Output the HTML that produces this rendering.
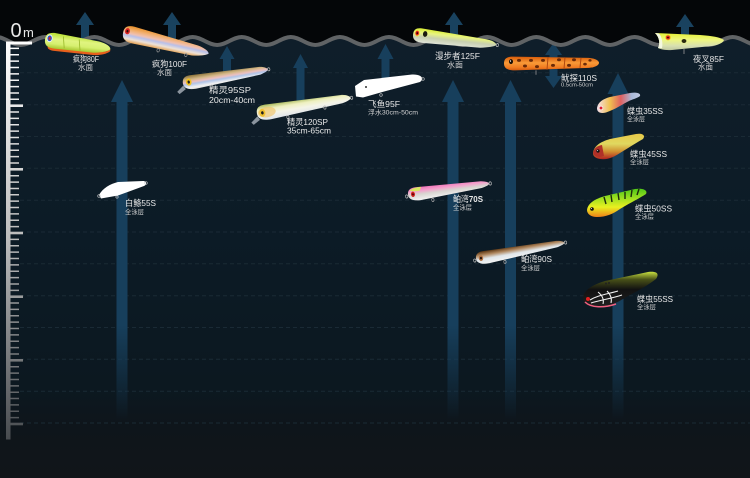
<!DOCTYPE html>
<html><head><meta charset="utf-8"><style>
html,body{margin:0;padding:0;background:#040608;}
svg{display:block;}
text{font-family:"Liberation Sans","Noto Sans CJK SC",sans-serif;fill:#e8e8e8;}
.s{fill:#d2d2d2;}
</style></head><body>
<svg width="750" height="478" viewBox="0 0 750 478" xmlns="http://www.w3.org/2000/svg">
<defs>
<linearGradient id="water" gradientUnits="userSpaceOnUse" x1="0" y1="35" x2="0" y2="478">
<stop offset="0" stop-color="#0f1e2a"/><stop offset="0.45" stop-color="#0c1b26"/><stop offset="0.8" stop-color="#0c1820"/><stop offset="0.88" stop-color="#0e151b"/><stop offset="1" stop-color="#111519"/></linearGradient>
<linearGradient id="rul" gradientUnits="userSpaceOnUse" x1="0" y1="40" x2="0" y2="440">
<stop offset="0" stop-color="#ffffff"/><stop offset="0.5" stop-color="#bcbcbc"/><stop offset="1" stop-color="#474b4f"/></linearGradient>
<linearGradient id="af" gradientUnits="userSpaceOnUse" x1="0" y1="325" x2="0" y2="420">
<stop offset="0" stop-color="#173f5c"/><stop offset="1" stop-color="#173f5c" stop-opacity="0"/></linearGradient>
<linearGradient id="g1" x1="0" y1="0" x2="0" y2="1"><stop offset="0" stop-color="#b8e030"/><stop offset="0.4" stop-color="#e0f480"/><stop offset="0.7" stop-color="#d6f070"/><stop offset="1" stop-color="#a8c830"/></linearGradient>
<linearGradient id="g2" x1="0" y1="0" x2="0" y2="1"><stop offset="0" stop-color="#e8902a"/><stop offset="0.25" stop-color="#f2b070"/><stop offset="0.45" stop-color="#f0c0b0"/><stop offset="0.58" stop-color="#b8c0ea"/><stop offset="0.78" stop-color="#eee2d6"/><stop offset="1" stop-color="#e4a050"/></linearGradient>
<linearGradient id="g3" x1="0" y1="0" x2="0" y2="1"><stop offset="0" stop-color="#8a7238"/><stop offset="0.3" stop-color="#d4b888"/><stop offset="0.48" stop-color="#ecc0c0"/><stop offset="0.62" stop-color="#b0c4e8"/><stop offset="0.85" stop-color="#f2f2f2"/><stop offset="1" stop-color="#dcdcdc"/></linearGradient>
<linearGradient id="g4" x1="0" y1="0" x2="0" y2="1"><stop offset="0" stop-color="#a8b858"/><stop offset="0.3" stop-color="#eef0c0"/><stop offset="0.6" stop-color="#f4f4e8"/><stop offset="1" stop-color="#dfe4ea"/></linearGradient>
<linearGradient id="g6" x1="0" y1="0" x2="0" y2="1"><stop offset="0" stop-color="#d8ec30"/><stop offset="0.3" stop-color="#e8f480"/><stop offset="0.6" stop-color="#c8d0b0"/><stop offset="1" stop-color="#e0e4d8"/></linearGradient>
<linearGradient id="g7" x1="0" y1="0" x2="0" y2="1"><stop offset="0" stop-color="#d85a08"/><stop offset="0.45" stop-color="#f89a38"/><stop offset="0.8" stop-color="#f07a20"/><stop offset="1" stop-color="#d05a10"/></linearGradient>
<linearGradient id="g8" x1="0" y1="0" x2="0" y2="1"><stop offset="0" stop-color="#e4f030"/><stop offset="0.4" stop-color="#eef680"/><stop offset="0.75" stop-color="#d8e0b0"/><stop offset="1" stop-color="#c0c8a0"/></linearGradient>
<linearGradient id="g10" x1="0" y1="0" x2="0" y2="1"><stop offset="0" stop-color="#f070b8"/><stop offset="0.3" stop-color="#f4a0cc"/><stop offset="0.55" stop-color="#d8d4d0"/><stop offset="1" stop-color="#f2f2f2"/></linearGradient>
<linearGradient id="g11" x1="0" y1="0" x2="0" y2="1"><stop offset="0" stop-color="#5a3410"/><stop offset="0.3" stop-color="#b08860"/><stop offset="0.6" stop-color="#e0e6ea"/><stop offset="1" stop-color="#f4f4f4"/></linearGradient>
<linearGradient id="v12" x1="0" y1="0" x2="1" y2="0"><stop offset="0" stop-color="#f4e0ec"/><stop offset="0.3" stop-color="#f0c050"/><stop offset="0.55" stop-color="#e06060"/><stop offset="0.8" stop-color="#a8b8d8"/><stop offset="1" stop-color="#c0c8e0"/></linearGradient>
<linearGradient id="v13" x1="0" y1="0" x2="0" y2="1"><stop offset="0" stop-color="#e8c848"/><stop offset="0.4" stop-color="#e0d860"/><stop offset="0.7" stop-color="#d09030"/><stop offset="1" stop-color="#b02020"/></linearGradient>
<linearGradient id="v14" x1="0" y1="0" x2="0" y2="1"><stop offset="0" stop-color="#50c818"/><stop offset="0.35" stop-color="#a0e020"/><stop offset="0.65" stop-color="#e8f020"/><stop offset="1" stop-color="#f08018"/></linearGradient>
<linearGradient id="v15" x1="0" y1="0" x2="0" y2="1"><stop offset="0" stop-color="#c8e040"/><stop offset="0.22" stop-color="#485018"/><stop offset="0.5" stop-color="#121212"/><stop offset="1" stop-color="#202020"/></linearGradient>
</defs>

<rect x="0" y="0" width="750" height="478" fill="#040608"/>

<g fill="#19425f">
<path d="M85,12 L94,25 L89,25 L89,41 L81,41 L81,25 L76,25 Z"/>
<path d="M172,12 L181,25 L176,25 L176,41 L168,41 L168,25 L163,25 Z"/>
<path d="M454,12 L463,25 L458,25 L458,41 L450,41 L450,25 L445,25 Z"/>
<path d="M685,14 L694,27 L689,27 L689,41 L681,41 L681,27 L676,27 Z"/>
</g>

<path fill="url(#water)" d="M-3.8,37 C5.04,37 11.91,45 20.75,45 S36.46,37 45.3,37 S61.01,45 69.85,45 S85.56,37 94.4,37 S110.11,45 118.95,45 S134.66,37 143.5,37 S159.21,45 168.05,45 S183.76,37 192.6,37 S208.31,45 217.15,45 S232.86,37 241.7,37 S257.41,45 266.25,45 S281.96,37 290.8,37 S306.51,45 315.35,45 S331.06,37 339.9,37 S355.61,45 364.45,45 S380.16,37 389,37 S404.71,45 413.55,45 S429.26,37 438.1,37 S453.81,45 462.65,45 S478.36,37 487.2,37 S502.91,45 511.75,45 S527.46,37 536.3,37 S552.01,45 560.85,45 S576.56,37 585.4,37 S601.11,45 609.95,45 S625.66,37 634.5,37 S650.21,45 659.05,45 S674.76,37 683.6,37 S699.31,45 708.15,45 S723.86,37 732.7,37 S748.41,45 757.25,45 L760,478 L-10,478 Z"/>

<g stroke="#1a2a35" stroke-width="1" stroke-dasharray="4 3" fill="none">
<path d="M20,72.8H750M20,104.7H750M20,136.5H750M20,168.3H750M20,200.2H750M20,232H750M20,263.8H750M20,295.7H750M20,327.5H750M20,359.3H750M20,391.2H750M20,423H750"/>
</g>

<g fill="url(#af)">
<path d="M122,80 L133,102 L127.5,102 L127.5,420 L116.5,420 L116.5,102 L111,102 Z"/>
<path d="M453,80 L464,102 L458.5,102 L458.5,420 L447.5,420 L447.5,102 L442,102 Z"/>
<path d="M510.5,80 L521.5,102 L516,102 L516,420 L505,420 L505,102 L499.5,102 Z"/>
<path d="M618,73 L628.5,94 L623.5,94 L623.5,420 L612.5,420 L612.5,94 L607.5,94 Z"/>
</g>
<g fill="#173f5c">
<path d="M227,46 L234.5,59 L231,59 L231,80 L223,80 L223,59 L219.5,59 Z"/>
<path d="M300.5,54 L308,68 L304.5,68 L304.5,106 L296.5,106 L296.5,68 L293,68 Z"/>
<path d="M385.5,44 L393.5,59 L389.5,59 L389.5,86 L381.5,86 L381.5,59 L377.5,59 Z"/>
<path d="M553.5,43 L562,55 L557.5,55 L557.5,76 L562,76 L553.5,88 L545,76 L549.5,76 L549.5,55 L545,55 Z"/>
</g>

<path fill="none" stroke="#606365" stroke-width="4" d="M-3.8,37 C5.04,37 11.91,45 20.75,45 S36.46,37 45.3,37 S61.01,45 69.85,45 S85.56,37 94.4,37 S110.11,45 118.95,45 S134.66,37 143.5,37 S159.21,45 168.05,45 S183.76,37 192.6,37 S208.31,45 217.15,45 S232.86,37 241.7,37 S257.41,45 266.25,45 S281.96,37 290.8,37 S306.51,45 315.35,45 S331.06,37 339.9,37 S355.61,45 364.45,45 S380.16,37 389,37 S404.71,45 413.55,45 S429.26,37 438.1,37 S453.81,45 462.65,45 S478.36,37 487.2,37 S502.91,45 511.75,45 S527.46,37 536.3,37 S552.01,45 560.85,45 S576.56,37 585.4,37 S601.11,45 609.95,45 S625.66,37 634.5,37 S650.21,45 659.05,45 S674.76,37 683.6,37 S699.31,45 708.15,45 S723.86,37 732.7,37 S748.41,45 757.25,45"/>

<g fill="url(#rul)">
<rect x="6" y="41.5" width="4.5" height="398"/>
<rect x="6" y="41.5" width="26" height="3"/>
<rect x="10" y="104.4" width="13" height="2.6"/>
<rect x="10" y="168" width="13" height="2.6"/>
<rect x="10" y="231.7" width="13" height="2.6"/>
<rect x="10" y="295.4" width="13" height="2.6"/>
<rect x="10" y="359" width="13" height="2.6"/>
<rect x="10" y="422.7" width="13" height="2.6"/>
</g>
<path d="M14.5,47.62 L14.5,424" stroke="url(#rul)" stroke-width="9" stroke-dasharray="1.5 4.867" fill="none"/>
<text x="10.5" y="37" font-size="20" fill="#ffffff">0</text>
<text x="23" y="37" font-size="13" fill="#ffffff">m</text>

<!-- lure 1 疯狗80F -->
<g transform="translate(43.6,33.8) rotate(6) translate(0,-2) scale(1,1.3)">
<path d="M6,10 L52,11.5 C60,11 66,10 68,8 L68,9.5 C64,12.5 56,13.8 50,13.8 L12,13.8 C7,13.8 4,12 6,10Z" fill="#e8601c"/>
<path d="M2,6 C2,1 6,0 12,0 L56,3 C64,4 68,6 68,8 C66,10 60,11 52,12 L12,12 C5,12 2,10 2,6 Z" fill="url(#g1)"/>
<path d="M20,2 L22,11 M36,3 L38,11.5" stroke="#98b828" stroke-width="0.8"/>
<circle cx="6.5" cy="4.5" r="3" fill="#e8eef8"/>
<circle cx="6.5" cy="4.5" r="2.2" fill="#2a58c8"/>
<circle cx="6.5" cy="4.5" r="1.1" fill="#e02424"/>
</g>

<!-- lure 2 疯狗100F -->
<g transform="translate(122.4,26.2) rotate(12) translate(0,-2) scale(1,1.3)">
<path d="M2,6 C2,1 6,0 12,0 L78,4 C86,5 90,7 90,8.5 C88,10 82,11.5 74,12.5 L14,13 C6,13 2,11 2,6Z" fill="url(#g2)"/>
<circle cx="6" cy="4.5" r="2.4" fill="#d82020"/>
<circle cx="6" cy="4.5" r="1" fill="#301010"/>
<circle cx="40" cy="14" r="1.3" fill="none" stroke="#999" stroke-width="0.6"/>
<circle cx="68" cy="13" r="1.3" fill="none" stroke="#999" stroke-width="0.6"/>
</g>

<!-- lure 3 精灵95SP -->
<g transform="translate(180.1,78.9) rotate(-9.5) translate(0,-2) scale(1,1.3)">
<path d="M2,7 L-5,11 L-3,13 L4,10Z" fill="#c0c8d0" opacity="0.7"/>
<path d="M2,5.5 C2,1.5 5,0 10,0 L80,2.5 C85,3 88,4.5 88,5.5 C88,6.5 85,7.5 80,8.5 L14,11 C6,11 2,9 2,5.5Z" fill="url(#g3)"/>
<circle cx="8" cy="5" r="2.8" fill="#f0c020"/>
<circle cx="8" cy="5" r="1.2" fill="#202020"/>
<circle cx="89" cy="5.5" r="1.2" fill="none" stroke="#bbb" stroke-width="0.6"/>
<circle cx="30" cy="11.5" r="1.2" fill="none" stroke="#aaa" stroke-width="0.6"/>
</g>

<!-- lure 4 精灵120SP -->
<g transform="translate(254,108.4) rotate(-9.6) translate(0,-2) scale(1,1.3)">
<path d="M2,8 L-5,12 L-3,14 L4,11Z" fill="#c0c8d0" opacity="0.7"/>
<path d="M2,6 C2,1.5 5,0 11,0 L88,2.5 C94,3 97,5 97,6 C97,7 94,8 88,9 L15,12 C6,12 2,10 2,6Z" fill="url(#g4)"/>
<ellipse cx="12" cy="6" rx="9" ry="4" fill="#f0c060" opacity="0.6"/>
<circle cx="7.5" cy="6" r="3" fill="#f0c030"/>
<circle cx="7.5" cy="6" r="1.3" fill="#202020"/>
<circle cx="98" cy="6" r="1.2" fill="none" stroke="#bbb" stroke-width="0.6"/>
<circle cx="32" cy="12.5" r="1.2" fill="none" stroke="#aaa" stroke-width="0.6"/>
<circle cx="70" cy="10" r="1.2" fill="none" stroke="#aaa" stroke-width="0.6"/>
</g>

<!-- lure 5 飞鱼95F -->
<path d="M355,86 L364,80 L412,74.5 C421,74 425,78.5 420,82 L386,91 L363,97.5 L356,96.5 Z" fill="#ffffff"/>
<circle cx="366" cy="87" r="1" fill="#333"/>
<circle cx="381" cy="95" r="1.3" fill="none" stroke="#ccc" stroke-width="0.6"/>
<circle cx="423" cy="79" r="1.3" fill="none" stroke="#ccc" stroke-width="0.6"/>

<!-- lure 6 漫步者125F -->
<g transform="translate(411.6,29.3) rotate(6.2) translate(0,-2) scale(1,1.3)">
<path d="M2,5.5 C2,1 5,0 10,0 L76,3 C83,3.5 86,5.5 86,6.5 C84,8 78,9 70,10 L12,11 C5,11 2,9 2,5.5Z" fill="url(#g6)"/>
<circle cx="6" cy="4" r="2.6" fill="#f0e040"/>
<circle cx="6" cy="4" r="1.8" fill="#e02020"/>
<circle cx="6" cy="4" r="0.8" fill="#200"/>
<circle cx="14" cy="4" r="2.2" fill="#1a1a10"/>
<circle cx="87" cy="6.5" r="1.2" fill="none" stroke="#bbb" stroke-width="0.6"/>
</g>

<!-- lure 7 鱿探110S -->
<g transform="translate(503,56) scale(1,1.25)">
<path d="M1,6 C1,2 4,0.5 10,0.5 L86,1.5 C93,2 96,4 96,5.5 C96,7 93,9 86,9.5 L12,11.5 C4,11.5 1,9.5 1,6Z" fill="url(#g7)"/>
<g fill="#6a2a08">
<ellipse cx="16" cy="3.5" rx="2" ry="1.2"/><ellipse cx="22" cy="8" rx="2" ry="1.2"/><ellipse cx="28" cy="3.5" rx="2" ry="1.2"/><ellipse cx="34" cy="8.5" rx="2" ry="1.2"/><ellipse cx="40" cy="3.5" rx="2" ry="1.2"/><ellipse cx="50" cy="7.5" rx="2" ry="1.2"/><ellipse cx="56" cy="3" rx="2" ry="1.2"/><ellipse cx="66" cy="7.5" rx="2" ry="1.2"/><ellipse cx="71" cy="3" rx="2" ry="1.2"/><ellipse cx="82" cy="6.5" rx="1.8" ry="1.1"/><ellipse cx="87" cy="3.5" rx="1.6" ry="1"/>
</g>
<path d="M45,1 L44,11 M62,1 L61,10.5 M78,1.5 L77,9.5" stroke="#b04810" stroke-width="1"/>
<circle cx="8" cy="4.5" r="2" fill="#1a1008"/>
<circle cx="7.5" cy="4" r="0.6" fill="#fff"/>
<path d="M33,11.5 L33,15" stroke="#999" stroke-width="0.8"/>
</g>

<!-- lure 8 夜叉85F -->
<path d="M655,33 L700,35 C712,36 720,37 724,40 C723,43 718,45 712,46 L672,50 C664,50.5 660,49 658,48 C660,44 660,38 655,33Z" fill="url(#g8)"/>
<path d="M655,33 C660,38 660,44 658,48 L662,48 C663,43 662,37 659,33.5Z" fill="#f4f8e0"/>
<circle cx="668" cy="37.5" r="2.9" fill="#f0d020"/>
<circle cx="668" cy="37.5" r="2" fill="#e03020"/>
<circle cx="668" cy="37.5" r="0.8" fill="#200"/>
<ellipse cx="684" cy="41" rx="2.4" ry="2" fill="#2a2a10"/>
<path d="M684,49 L684,54" stroke="#999" stroke-width="0.8"/>

<!-- lure 9 白鲦55S -->
<path d="M99,195 C103,188 110,184 118,182 L143,181 C147,181 147,185 144,186 L118,195.5 L101,198.5 Z" fill="#ffffff"/>
<circle cx="99" cy="196" r="1.3" fill="none" stroke="#ccc" stroke-width="0.6"/>
<circle cx="146" cy="183" r="1.3" fill="none" stroke="#ccc" stroke-width="0.6"/>
<circle cx="117" cy="197" r="1.2" fill="none" stroke="#ccc" stroke-width="0.6"/>

<!-- lure 10 鲌湾70S -->
<g transform="translate(405.4,190.3) rotate(-7.5) translate(0,-1.8) scale(1,1.35)">
<path d="M2,5 C2,1.5 5,0 10,0 L76,2 C81,2.5 84,3.8 84,4.5 C84,5.3 81,6.2 76,7 L14,10 C6,10 2,8 2,5Z" fill="url(#g10)"/>
<path d="M4,2 C7,0.5 11,0 16,0.3 L14,3 C10,3 7,3 4,2Z" fill="#d8e860"/>
<circle cx="7" cy="5" r="2" fill="#d02020"/>
<circle cx="7" cy="5" r="0.8" fill="#300"/>
<circle cx="85" cy="4.5" r="1.2" fill="none" stroke="#bbb" stroke-width="0.6"/>
<circle cx="0.5" cy="6" r="1.2" fill="none" stroke="#bbb" stroke-width="0.6"/>
<circle cx="26" cy="11" r="1.2" fill="none" stroke="#aaa" stroke-width="0.6"/>
</g>

<!-- lure 11 鲌湾90S -->
<g transform="translate(473.2,254.4) rotate(-10) translate(0,-1.5) scale(1,1.3)">
<path d="M2,5 C2,1.5 5,0 10,0 L84,2 C89,2.5 92,3.8 92,4.5 C92,5.3 89,6.2 84,7 L14,10 C6,10 2,8 2,5Z" fill="url(#g11)"/>
<circle cx="7" cy="5" r="2.2" fill="#b07040"/>
<circle cx="7" cy="5" r="1" fill="#201008"/>
<circle cx="93" cy="4.5" r="1.2" fill="none" stroke="#bbb" stroke-width="0.6"/>
<circle cx="0.5" cy="6" r="1.2" fill="none" stroke="#bbb" stroke-width="0.6"/>
<circle cx="30" cy="11" r="1.2" fill="none" stroke="#aaa" stroke-width="0.6"/>
</g>

<!-- lure 12 蝶虫35SS -->
<path d="M597,108 C598,102 603,99 610,97 L630,93 C636,92 641,93 640,96 C638,98 633,99 630,100.5 C622,104.5 615,109.5 606,112.5 C600,114 597,112 597,108Z" fill="url(#v12)"/>
<circle cx="601" cy="108" r="2.2" fill="#fff"/>
<circle cx="601" cy="108" r="1.5" fill="#e02030"/>

<!-- lure 13 蝶虫45SS -->
<path d="M593,153 C594,146 600,142 610,139 L636,134 C642,133 646,135 643,139 C636,143 628,148 620,153 C614,157 608,160 600,159 C595,158 593,156 593,153Z" fill="url(#v13)"/>
<path d="M593,153 C594,148 597,146 602,145 L604,156 C599,158 594,157 593,153Z" fill="#b03028"/>
<circle cx="598" cy="151" r="1.6" fill="#111"/>
<circle cx="597.6" cy="150.6" r="0.5" fill="#fff"/>

<!-- lure 14 蝶虫50SS -->
<path d="M587,210 C588,203 595,199 605,196 L635,189 C643,188 648,190 646,194 C640,198 630,203 620,209 C613,214 606,217 597,217 C591,217 587,214 587,210Z" fill="url(#v14)"/>
<path d="M604,197 L606,204 M611,195 L612,202 M618,193 L619,200 M625,192 L625,199 M632,190 L631,197 M639,189 L637,195" stroke="#1c2a0c" stroke-width="1.4"/>
<circle cx="592" cy="209" r="1.8" fill="#111"/>
<circle cx="591.5" cy="208.5" r="0.5" fill="#fff"/>

<!-- lure 15 蝶虫55SS -->
<path d="M583,298 C584,290 592,285 605,281 L648,272 C656,271 660,273 656,279 C648,285 638,291 628,296 C618,302 610,307 598,307 C589,307 583,304 583,298Z" fill="url(#v15)"/>
<path d="M590,300 C598,295 608,294 618,291 M591,303 C600,300 610,299 622,295 M598,292 C603,296 604,300 603,304 M607,291 C611,295 612,299 611,303" stroke="#f0f0f0" stroke-width="1.1" fill="none"/>
<path d="M585,302 C591,308 604,308 616,304" stroke="#f06080" stroke-width="1.5" fill="none"/>
<circle cx="588" cy="299" r="2" fill="#e02020"/>
<circle cx="606" cy="283.5" r="1" fill="#222"/><circle cx="609" cy="283" r="1" fill="#222"/>

<!-- labels -->
<g font-size="8.5">
<text x="73" y="62" textLength="26" lengthAdjust="spacingAndGlyphs">疯狗80F</text>
<text x="152" y="67" textLength="35" lengthAdjust="spacingAndGlyphs">疯狗100F</text>
<text x="209" y="93" textLength="42" lengthAdjust="spacingAndGlyphs">精灵95SP</text>
<text x="209" y="103" textLength="46" lengthAdjust="spacingAndGlyphs">20cm-40cm</text>
<text x="287" y="125" textLength="41" lengthAdjust="spacingAndGlyphs">精灵120SP</text>
<text x="287" y="133.5" textLength="44" lengthAdjust="spacingAndGlyphs">35cm-65cm</text>
<text x="368" y="107" textLength="32" lengthAdjust="spacingAndGlyphs">飞鱼95F</text>
<text x="435" y="59" textLength="45" lengthAdjust="spacingAndGlyphs">漫步者125F</text>
<text x="561" y="81" textLength="36" lengthAdjust="spacingAndGlyphs">鱿探110S</text>
<text x="693" y="62" textLength="31" lengthAdjust="spacingAndGlyphs">夜叉85F</text>
<text x="627" y="114" textLength="36" lengthAdjust="spacingAndGlyphs">蝶虫35SS</text>
<text x="630" y="157" textLength="37" lengthAdjust="spacingAndGlyphs">蝶虫45SS</text>
<text x="635" y="211.5" textLength="37" lengthAdjust="spacingAndGlyphs">蝶虫50SS</text>
<text x="637" y="302" textLength="36" lengthAdjust="spacingAndGlyphs">蝶虫55SS</text>
<text x="125" y="206" textLength="31" lengthAdjust="spacingAndGlyphs">白鲦55S</text>
<text x="453" y="202" textLength="30" lengthAdjust="spacingAndGlyphs">鲌湾<tspan font-weight="bold">70S</tspan></text>
<text x="521" y="262" textLength="31" lengthAdjust="spacingAndGlyphs">鲌湾90S</text>
</g>
<g font-size="7.5">
<text class="s" x="78" y="70" textLength="15" lengthAdjust="spacingAndGlyphs">水面</text>
<text class="s" x="157" y="75" textLength="15" lengthAdjust="spacingAndGlyphs">水面</text>
<text class="s" x="447" y="67.5" textLength="16" lengthAdjust="spacingAndGlyphs">水面</text>
<text class="s" x="698" y="69.5" textLength="15" lengthAdjust="spacingAndGlyphs">水面</text>
</g>
<g font-size="6.5">
<text class="s" x="368" y="114.5" textLength="50" lengthAdjust="spacingAndGlyphs">浮水30cm-50cm</text>
<text class="s" x="627" y="121" textLength="18" lengthAdjust="spacingAndGlyphs">全泳层</text>
<text class="s" x="630" y="164" textLength="19" lengthAdjust="spacingAndGlyphs">全泳层</text>
<text class="s" x="635" y="218.5" textLength="19" lengthAdjust="spacingAndGlyphs">全泳层</text>
<text class="s" x="637" y="309" textLength="19" lengthAdjust="spacingAndGlyphs">全泳层</text>
<text class="s" x="125" y="214" textLength="19" lengthAdjust="spacingAndGlyphs">全泳层</text>
<text class="s" x="453" y="209.5" textLength="19" lengthAdjust="spacingAndGlyphs">全泳层</text>
<text class="s" x="521" y="270" textLength="19" lengthAdjust="spacingAndGlyphs">全泳层</text>
</g>
<text class="s" x="561" y="86.5" font-size="5" textLength="32" lengthAdjust="spacingAndGlyphs">0.5cm-50cm</text>
</svg>
</body></html>
